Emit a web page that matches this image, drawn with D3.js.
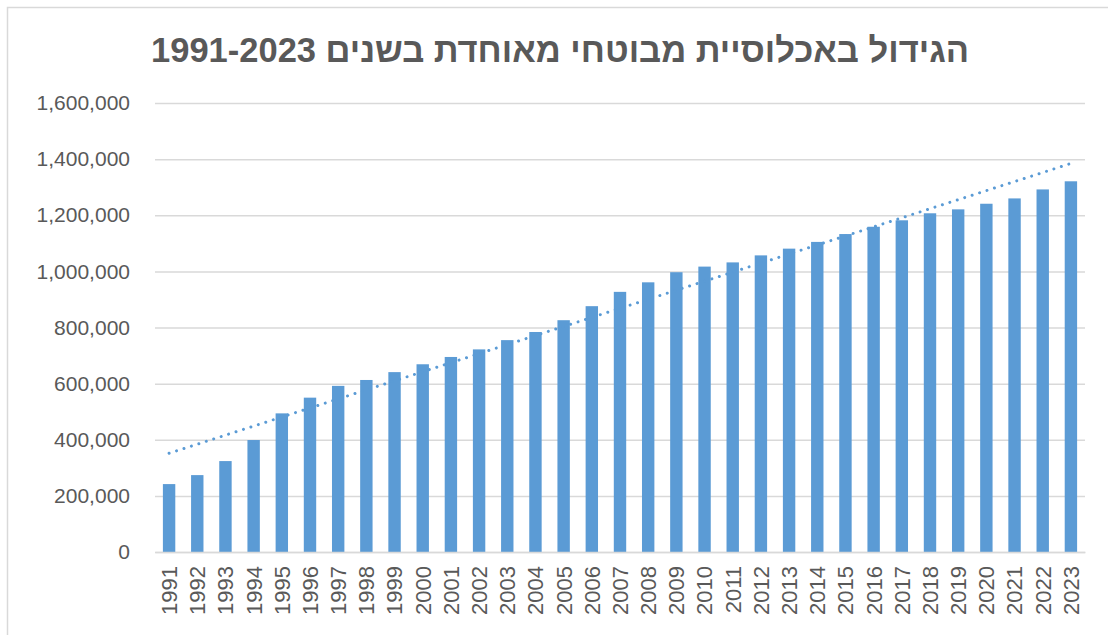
<!DOCTYPE html>
<html>
<head>
<meta charset="utf-8">
<script src="https://cdn.jsdelivr.net/npm/d3@7"></script>
<style>
  body { margin: 0; background: #fff; }
  text { font-family: "Liberation Sans", Arial, sans-serif; }
</style>
</head>
<body>
<svg id="my_dataviz" width="1108" height="635"></svg>
<script>
const years = ["1991","1992","1993","1994","1995","1996","1997","1998","1999","2000",
  "2001","2002","2003","2004","2005","2006","2007","2008","2009","2010",
  "2011","2012","2013","2014","2015","2016","2017","2018","2019","2020",
  "2021","2022","2023"];
const insured = [242000, 274000, 324000, 399000, 494000, 550000, 592000, 613000, 641000, 669000,
  695000, 722000, 755000, 784000, 826000, 876000, 927000, 961000, 997000, 1017000,
  1032000, 1057000, 1081000, 1105000, 1133000, 1159000, 1182000, 1207000, 1221000, 1241000,
  1260000, 1292000, 1321000];
const yTicks = [0, 200000, 400000, 600000, 800000, 1000000, 1200000, 1400000, 1600000];
const title = "הגידול באכלוסיית מבוטחי מאוחדת בשנים 1991-2023";

const svg = d3.select("#my_dataviz");
const width = +svg.attr("width");
const height = +svg.attr("height");
const margin = {top: 103, right: 23, bottom: 83, left: 155};
const innerWidth = width - margin.left - margin.right;
const innerHeight = height - margin.top - margin.bottom;

const grey = "#d9d9d9";
const textColor = "#595959";
const barColor = "#5b9bd5";

// chart area border: only top and left edges are inside the picture
svg.append("path")
  .attr("d", "M7.5," + height + "V7.5H" + width)
  .attr("fill", "none")
  .attr("stroke", grey)
  .attr("stroke-width", 1.5);

svg.append("text")
  .attr("x", 560).attr("y", 62)
  .attr("direction", "rtl")
  .attr("text-anchor", "middle")
  .attr("font-size", 34.5)
  .attr("font-weight", "bold")
  .attr("fill", textColor)
  .text(title);

const chart = svg.append("g")
  .attr("transform", "translate(" + margin.left + "," + margin.top + ")");

const x = d3.scaleBand()
  .domain(years)
  .range([0, innerWidth])
  .paddingInner(0.56)
  .paddingOuter(0.28);

const y = d3.scaleLinear()
  .domain([0, 1600000])
  .range([innerHeight, 0]);

// gridlines + y labels
const yAxis = chart.append("g")
  .call(d3.axisLeft(y).tickValues(yTicks).tickSize(-innerWidth).tickPadding(25)
    .tickFormat(d3.format(",")));
yAxis.select(".domain").remove();
yAxis.selectAll(".tick line").attr("stroke", grey).attr("stroke-width", 1.5);
yAxis.selectAll(".tick text")
  .attr("fill", textColor)
  .attr("font-size", 21)
  .attr("font-family", "Liberation Sans, Arial, sans-serif");

// bars
chart.selectAll(".bar")
  .data(insured)
  .enter()
  .append("rect")
  .attr("x", (d, i) => x(years[i]))
  .attr("y", d => y(d))
  .attr("width", x.bandwidth())
  .attr("height", d => innerHeight - y(d))
  .attr("fill", barColor);

// x axis
const xAxis = chart.append("g")
  .attr("transform", "translate(0," + innerHeight + ")")
  .call(d3.axisBottom(x).tickSize(0));
xAxis.select(".domain").attr("stroke", grey).attr("stroke-width", 1.5);
xAxis.selectAll(".tick text")
  .attr("fill", textColor)
  .attr("font-size", 22)
  .attr("font-family", "Liberation Sans, Arial, sans-serif")
  .attr("text-anchor", "end")
  .attr("transform", "rotate(-90)")
  .attr("x", -14)
  .attr("y", 0)
  .attr("dy", "0.36em");

// linear trend line (least squares over category index)
const n = insured.length;
const idx = d3.range(n);
const mx = d3.mean(idx);
const my = d3.mean(insured);
const slope = d3.sum(idx, i => (i - mx) * (insured[i] - my)) / d3.sum(idx, i => (i - mx) * (i - mx));
const intercept = my - slope * mx;
const trend = [0, n - 1].map(i => [x(years[i]) + x.bandwidth() / 2, y(intercept + slope * i)]);

chart.append("path")
  .attr("d", d3.line()(trend))
  .attr("fill", "none")
  .attr("stroke", barColor)
  .attr("stroke-width", 3)
  .attr("stroke-linecap", "round")
  .attr("stroke-dasharray", "0.01 7.8");
</script>
</body>
</html>
